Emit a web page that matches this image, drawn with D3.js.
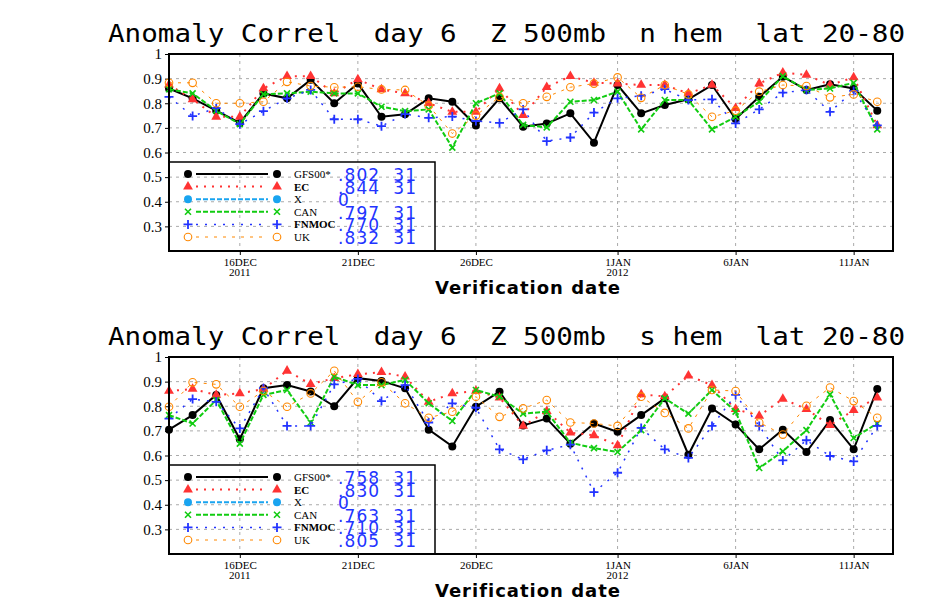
<!DOCTYPE html>
<html><head><meta charset="utf-8">
<script src="https://cdn.jsdelivr.net/npm/d3@7"></script>
<style>body{margin:0;background:#fff} text{white-space:pre}</style>
</head><body>
<svg id="c" width="930" height="608"></svg>
<script>
// verification days, 13 Dec 2011 .. 12 Jan 2012
var days = d3.range(31).map(function(i){ return new Date(2011, 11, 13 + i) })
var tickDays = [new Date(2011,11,16), new Date(2011,11,21), new Date(2011,11,26), new Date(2012,0,1), new Date(2012,0,6), new Date(2012,0,11)]
var tickNames = ["16DEC", "21DEC", "26DEC", "1JAN", "6JAN", "11JAN"]
var tickYears = ["2011", "", "", "2012", "", ""]
var yTicks = [0.3, 0.4, 0.5, 0.6, 0.7, 0.8, 0.9, 1]

// northern hemisphere
var nGfs = [0.86,0.82,0.77,0.72,0.84,0.82,0.895,0.80,0.88,0.745,0.755,0.82,0.806,0.71,0.82,0.705,0.718,0.759,0.64,0.874,0.759,0.793,0.816,0.874,0.736,0.826,0.908,0.854,0.877,0.86,0.77]
var nEc = [0.875,0.816,0.745,0.745,0.86,0.91,0.91,0.84,0.897,0.856,0.84,0.80,0.765,0.765,0.86,0.752,0.865,0.91,0.883,0.88,0.874,0.874,0.84,0.874,0.78,0.88,0.924,0.915,0.874,0.905,0.71]
var nCan = [0.857,0.84,0.77,0.715,0.837,0.84,0.847,0.84,0.84,0.786,0.768,0.775,0.62,0.80,0.84,0.712,0.702,0.806,0.813,0.847,0.694,0.813,0.813,0.694,0.745,0.806,0.91,0.854,0.86,0.883,0.694]
var nFnmoc = [0.826,0.748,0.78,0.715,0.768,0.82,0.854,0.735,0.735,0.707,0.756,0.741,0.746,0.728,0.72,0.775,0.646,0.661,0.762,0.82,0.83,0.857,0.813,0.816,0.718,0.775,0.843,0.854,0.765,0.85,0.71]
var nUk = [0.883,0.883,0.80,0.80,0.806,0.887,0.87,0.865,0.867,0.856,0.854,0.79,0.677,0.75,0.826,0.80,0.826,0.865,0.88,0.905,0.822,0.874,0.836,0.745,0.77,0.847,0.874,0.87,0.824,0.836,0.806]
var nStats = [".802  31", ".844  31", "0", ".797  31", ".770  31", ".832  31"]

// southern hemisphere
var sGfs = [0.705,0.764,0.846,0.666,0.873,0.886,0.86,0.80,0.914,0.903,0.873,0.705,0.637,0.798,0.859,0.722,0.75,0.648,0.73,0.696,0.764,0.832,0.603,0.791,0.726,0.625,0.705,0.614,0.744,0.625,0.87]
var sEc = [0.862,0.87,0.846,0.852,0.87,0.944,0.89,0.914,0.93,0.938,0.92,0.818,0.852,0.862,0.835,0.72,0.78,0.693,0.682,0.641,0.848,0.84,0.924,0.886,0.788,0.761,0.83,0.788,0.723,0.784,0.835]
var sCan = [0.764,0.73,0.825,0.648,0.846,0.866,0.734,0.92,0.886,0.886,0.907,0.812,0.74,0.866,0.839,0.77,0.778,0.652,0.63,0.614,0.703,0.832,0.77,0.866,0.778,0.549,0.617,0.703,0.848,0.671,0.73]
var sFnmoc = [0.75,0.829,0.818,0.71,0.873,0.72,0.72,0.889,0.911,0.821,0.886,0.734,0.812,0.794,0.625,0.584,0.621,0.644,0.451,0.53,0.712,0.625,0.59,0.72,0.846,0.72,0.58,0.662,0.598,0.576,0.72]
var sUk = [0.798,0.897,0.889,0.798,0.862,0.798,0.852,0.944,0.818,0.897,0.812,0.753,0.778,0.839,0.757,0.791,0.825,0.734,0.73,0.72,0.839,0.773,0.71,0.866,0.862,0.734,0.685,0.802,0.876,0.821,0.753]
var sStats = [".758  31", ".830  31", "0", ".763  31", ".710  31", ".805  31"]

var models = [
  {name:"GFS00*", color:"#000", dash:null, width:2, mark:"circle"},
  {name:"EC", color:"#f33", dash:"2,6", width:2, mark:"triangle"},
  {name:"X", color:"#19a4f0", dash:"5,2", width:2, mark:"dot"},
  {name:"CAN", color:"#1c1", dash:"5,2", width:2, mark:"x"},
  {name:"FNMOC", color:"#23f", dash:"2,7", width:1.5, mark:"plus"},
  {name:"UK", color:"#f80", dash:"3,6", width:1, mark:"ring"}
]

var svg = d3.select("#c")
var x = d3.scaleTime().domain([days[0], new Date(2012,0,12,16)]).range([169, 893])

function marker(g, m, px, py) {
  if (m.mark == "circle") g.append("circle").attr("cx",px).attr("cy",py).attr("r",4).attr("fill",m.color)
  else if (m.mark == "dot") g.append("circle").attr("cx",px).attr("cy",py).attr("r",4).attr("fill",m.color)
  else if (m.mark == "ring") g.append("circle").attr("cx",px).attr("cy",py).attr("r",3.8).attr("fill","none").attr("stroke",m.color).attr("stroke-width",1.1)
  else if (m.mark == "triangle") g.append("path").attr("d", d3.symbol(d3.symbolTriangle, 42)()).attr("transform","translate("+px+","+py+")").attr("fill",m.color)
  else if (m.mark == "x") g.append("path").attr("d","M-3,-3L3,3M-3,3L3,-3").attr("transform","translate("+px+","+py+")").attr("stroke",m.color).attr("stroke-width",1.6)
  else g.append("path").attr("d","M-4.5,0L4.5,0M0,-4.5L0,4.5").attr("transform","translate("+px+","+py+")").attr("stroke",m.color).attr("stroke-width",1.8)
}

function panel(top, title, series, stats) {
  var g = svg.append("g")
  var y = d3.scaleLinear().domain([0.2, 1]).range([top + 197, top])

  g.append("text").attr("x", 108).attr("y", top - 12).attr("textLength", 797).attr("lengthAdjust","spacingAndGlyphs")
    .attr("font-family","DejaVu Sans Mono").attr("font-size",24).text(title)

  // grid
  g.selectAll(".gy").data(yTicks.slice(0,7)).enter().append("line")
    .attr("x1",169).attr("x2",893).attr("y1",y).attr("y2",y)
    .attr("stroke","#aaa").attr("stroke-dasharray","3,4")
  g.selectAll(".gx").data(tickDays).enter().append("line")
    .attr("x1",x).attr("x2",x).attr("y1",top).attr("y2",top+197)
    .attr("stroke","#aaa").attr("stroke-dasharray","3,4")

  // axes
  var ya = g.append("g").attr("transform","translate(169,0)")
    .call(d3.axisLeft(y).tickValues(yTicks).tickSize(4).tickFormat(function(d){ return d == 1 ? "1" : d3.format(".1f")(d) }))
  ya.select(".domain").remove()
  ya.selectAll("text").attr("font-family","Liberation Serif").attr("font-size",15).attr("fill","#000")
  var xa = g.append("g").attr("transform","translate(0," + (top+197) + ")")
    .call(d3.axisBottom(x).tickValues(tickDays).tickSize(4).tickFormat(function(d,i){ return tickNames[i] }))
  xa.select(".domain").remove()
  xa.selectAll("text").attr("font-family","Liberation Serif").attr("font-size",11).attr("fill","#000")
  g.selectAll(".yr").data(tickDays).enter().append("text")
    .attr("x",x).attr("y",top+222).attr("text-anchor","middle")
    .attr("font-family","Liberation Serif").attr("font-size",11).text(function(d,i){ return tickYears[i] })
  g.append("text").attr("x",528).attr("y",top+240).attr("text-anchor","middle")
    .attr("font-family","DejaVu Sans").attr("font-weight","bold").attr("font-size",18).attr("letter-spacing",1).text("Verification date")

  // series
  series.forEach(function(vals, k) {
    var m = models[k]
    if (!vals) return
    var line = d3.line().x(function(d,i){ return x(days[i]) }).y(function(d){ return y(d) })
    g.append("path").datum(vals).attr("d", line).attr("fill","none")
      .attr("stroke", m.color).attr("stroke-width", m.width).attr("stroke-dasharray", m.dash)
    vals.forEach(function(v,i){ marker(g, m, x(days[i]), y(v)) })
  })

  // legend
  var lt = top + 108
  g.append("path").attr("d","M169,"+lt+"H435V"+(top+197)).attr("fill","none").attr("stroke","#000").attr("stroke-width",1.5)
  models.forEach(function(m, k) {
    var ry = lt + 12 + k * 12.6
    g.append("line").attr("x1",196).attr("x2",268).attr("y1",ry).attr("y2",ry)
      .attr("stroke",m.color).attr("stroke-width",m.width).attr("stroke-dasharray",m.dash)
    marker(g, m, 188, ry); marker(g, m, 277, ry)
    g.append("text").attr("x",294).attr("y",ry+4).attr("font-family","Liberation Serif").attr("font-size",11)
      .attr("font-weight", (m.name=="EC"||m.name=="FNMOC") ? "bold" : "normal").text(m.name)
    g.append("text").attr("x",338).attr("y",ry+7).attr("font-family","DejaVu Sans").attr("font-size",17)
      .attr("fill","#23f").attr("textLength", stats[k].length > 1 ? 78 : null).text(stats[k])
  })

  g.append("rect").attr("x",169).attr("y",top).attr("width",724).attr("height",197)
    .attr("fill","none").attr("stroke","#000").attr("stroke-width",2)
}

panel(54, "Anomaly Correl  day 6  Z 500mb  n hem  lat 20-80", [nGfs, nEc, null, nCan, nFnmoc, nUk], nStats)
panel(357, "Anomaly Correl  day 6  Z 500mb  s hem  lat 20-80", [sGfs, sEc, null, sCan, sFnmoc, sUk], sStats)
</script>
</body></html>
